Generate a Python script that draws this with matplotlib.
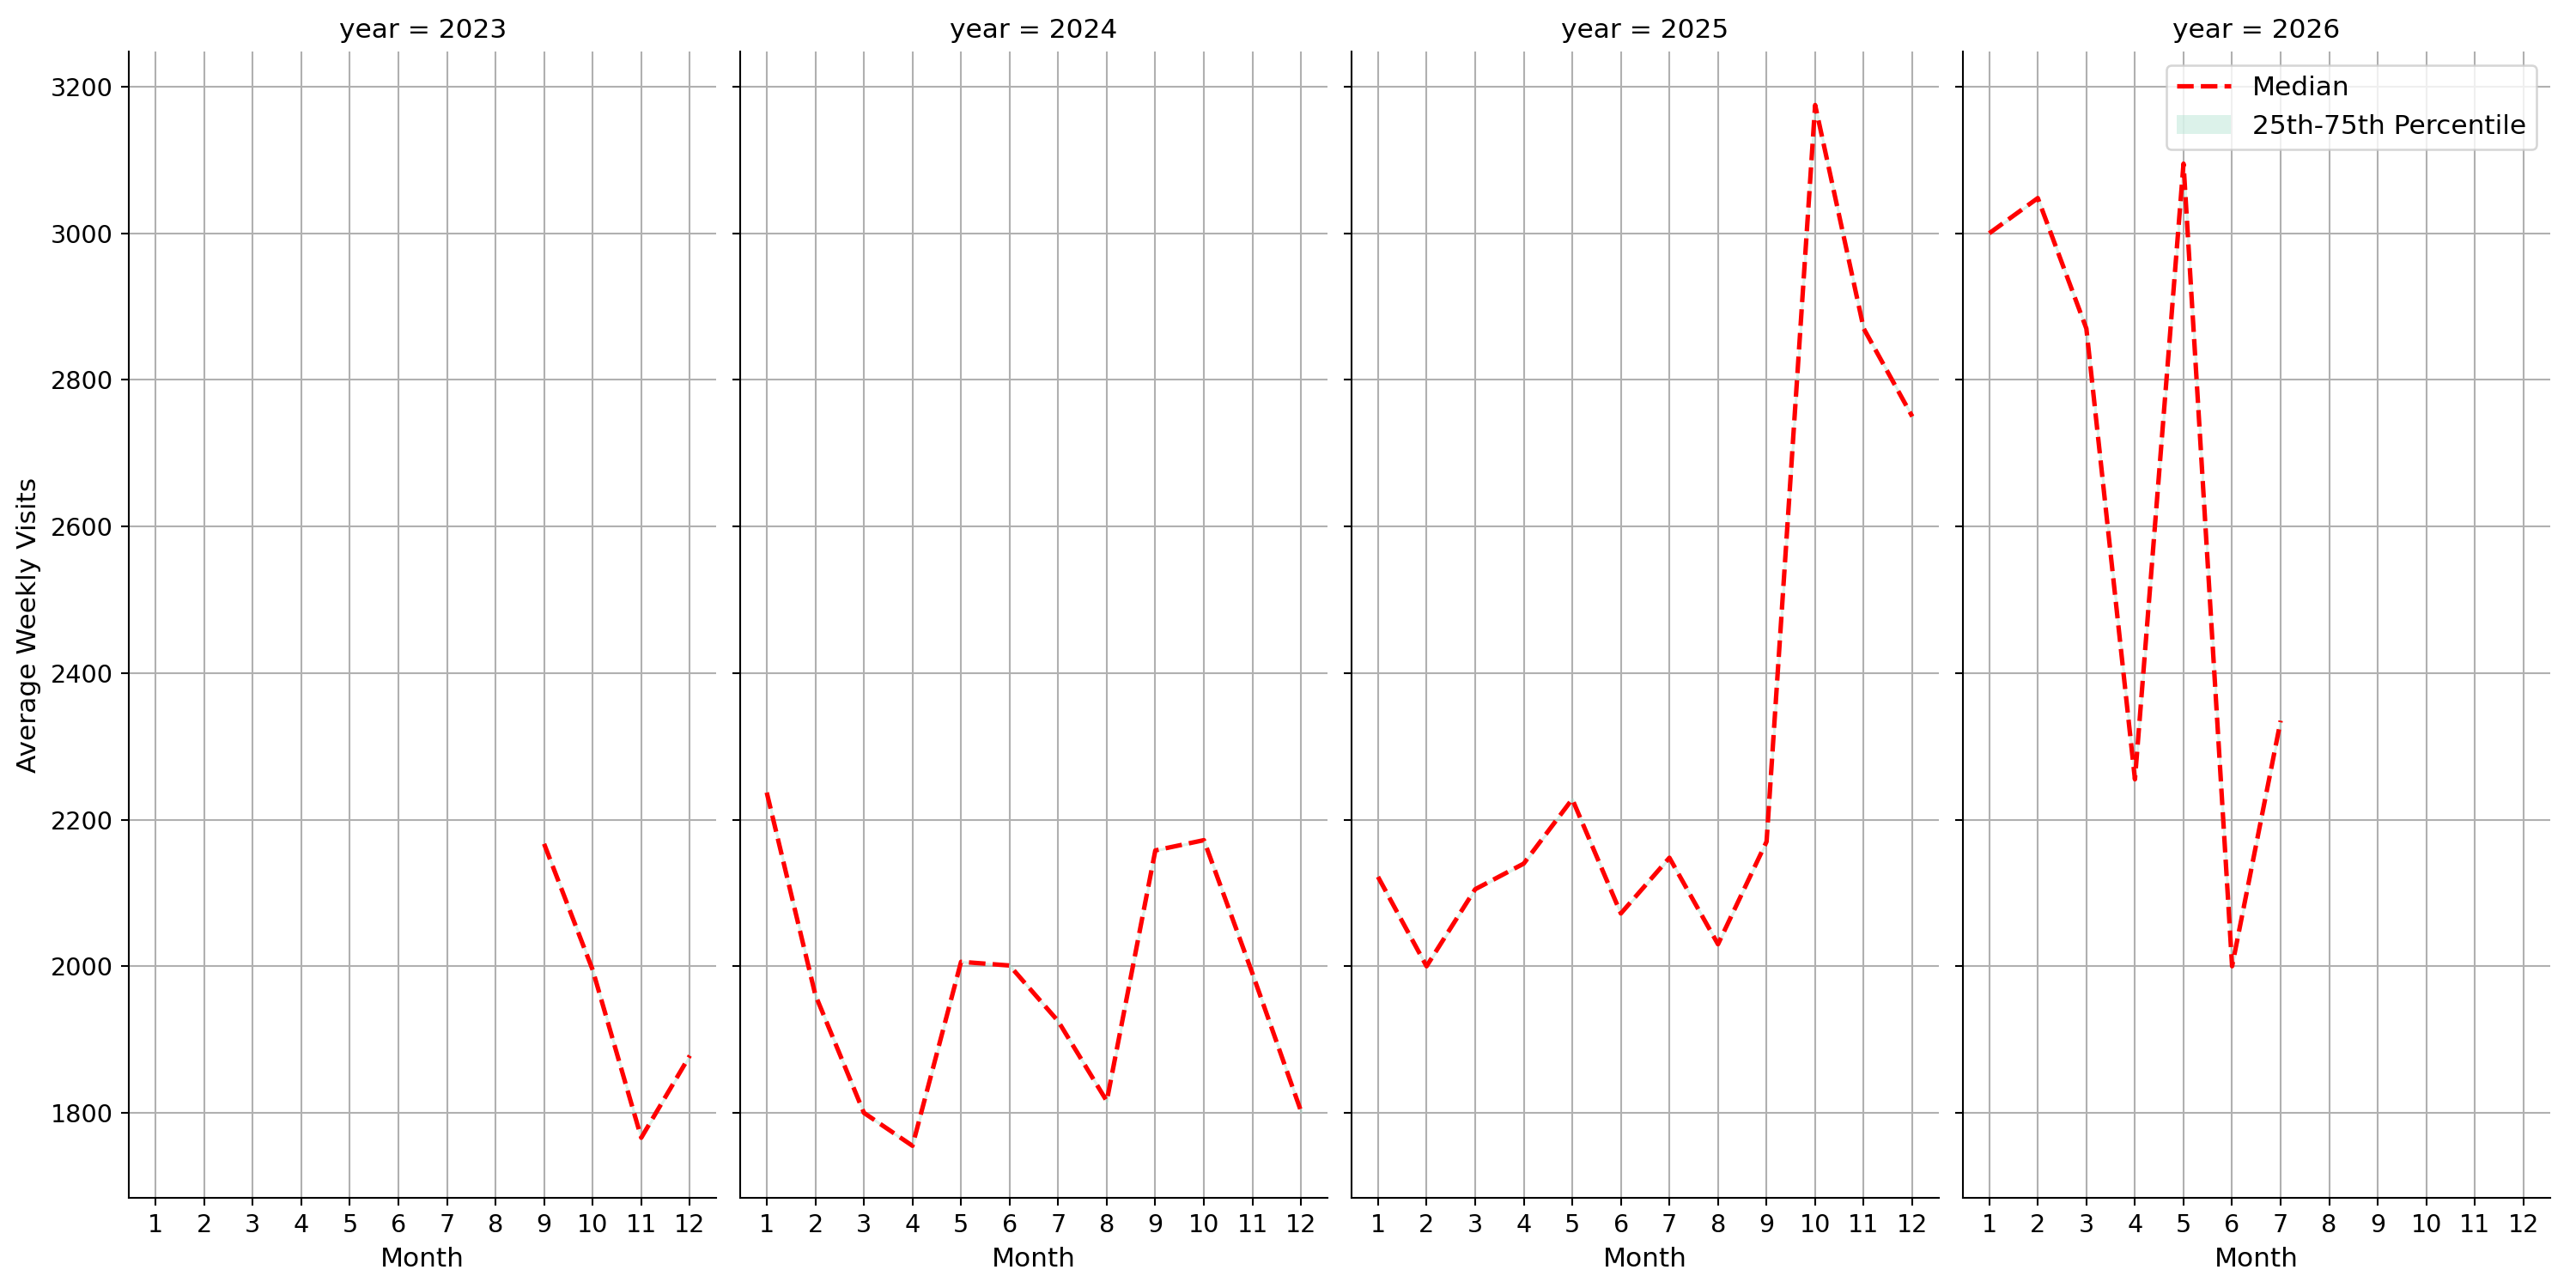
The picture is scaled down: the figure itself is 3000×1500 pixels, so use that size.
import matplotlib
matplotlib.use("Agg")
import matplotlib.pyplot as plt
from matplotlib.patches import Patch
from matplotlib.lines import Line2D

years = [2023, 2024, 2025, 2026]
months_2023 = [9, 10, 11, 12]
median_2023 = [2167, 1995, 1766, 1878]
months_2024 = list(range(1, 13))
median_2024 = [2237, 1961, 1800, 1755, 2006, 2001, 1925, 1816, 2158, 2172, 1990, 1802]
months_2025 = list(range(1, 13))
median_2025 = [2122, 2000, 2105, 2140, 2228, 2072, 2148, 2030, 2170, 3175, 2870, 2750]
months_2026 = [1, 2, 3, 4, 5, 6, 7]
median_2026 = [3000, 3048, 2870, 2255, 3095, 2000, 2335]
data = {2023: (months_2023, median_2023), 2024: (months_2024, median_2024),
        2025: (months_2025, median_2025), 2026: (months_2026, median_2026)}

plt.rcParams['font.size'] = 12
fig, axes = plt.subplots(1, 4, figsize=(16, 8), dpi=187.5, sharey=True)
for ax, y in zip(axes, years):
    m, v = data[y]
    ax.fill_between(m, v, v, color='#a8e0cc', alpha=0.4)
    ax.plot(m, v, color='red', linestyle='--', linewidth=2)
    ax.set_title(f"year = {y}", fontsize=12)
    ax.set_xticks(range(1, 13))
    ax.set_xlim(0.45, 12.55)
    ax.grid(True, color='#b0b0b0', linewidth=0.8)
    ax.set_axisbelow(True)
    ax.spines['top'].set_visible(False)
    ax.spines['right'].set_visible(False)
    ax.set_xlabel("Month", fontsize=12)
    ax.tick_params(labelsize=11)
axes[0].set_ylabel("Average Weekly Visits", fontsize=12)
axes[0].set_yticks(range(1800, 3201, 200))
axes[0].set_ylim(1684, 3248)
handles = [Line2D([], [], color='red', linestyle='--', linewidth=2),
           Patch(facecolor='#a8e0cc', alpha=0.4)]
axes[3].legend(handles, ["Median", "25th-75th Percentile"], loc='upper right', fontsize=12)
fig.subplots_adjust(left=0.05, right=0.99, bottom=0.07, top=0.96, wspace=0.04)
fig.savefig("out.png")
